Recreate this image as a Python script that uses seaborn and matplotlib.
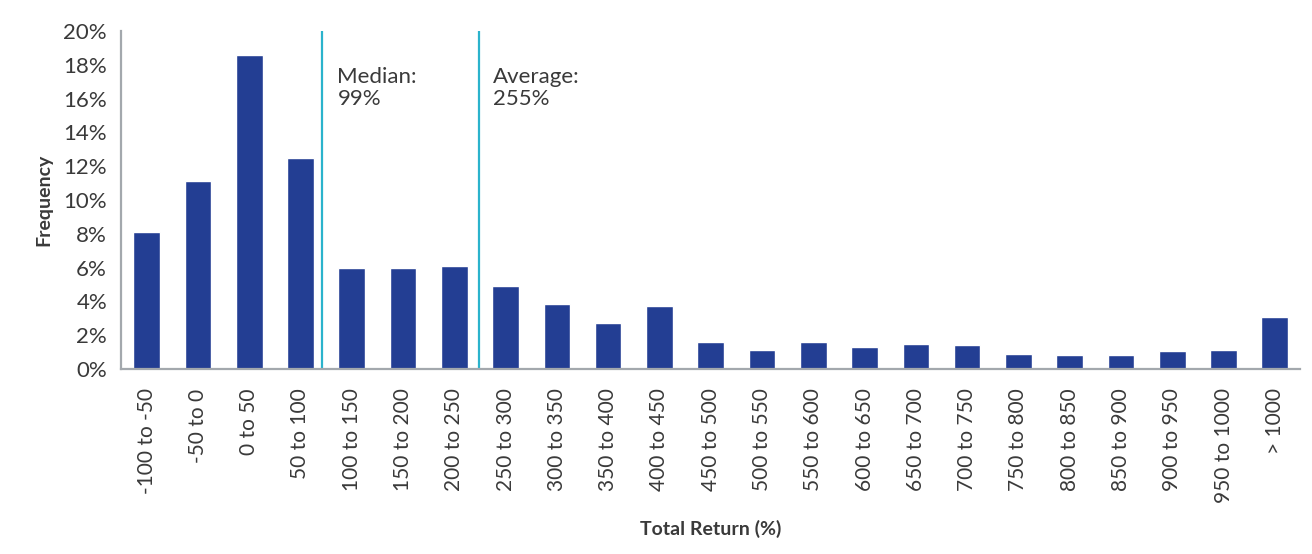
import matplotlib
matplotlib.use('Agg')
from matplotlib import pyplot as plt
from matplotlib.ticker import PercentFormatter, FixedLocator
import seaborn as sns
import pandas as pd

# ---------- DATA ----------
buckets = ['-100 to -50', '-50 to 0', '0 to 50', '50 to 100', '100 to 150',
           '150 to 200', '200 to 250', '250 to 300', '300 to 350', '350 to 400',
           '400 to 450', '450 to 500', '500 to 550', '550 to 600', '600 to 650',
           '650 to 700', '700 to 750', '750 to 800', '800 to 850', '850 to 900',
           '900 to 950', '950 to 1000', '> 1000']
frequency = [8.1, 11.1, 18.6, 12.5, 6.0, 6.0, 6.1, 4.9, 3.85, 2.7, 3.75, 1.6,
             1.15, 1.6, 1.3, 1.5, 1.4, 0.9, 0.85, 0.85, 1.05, 1.15, 3.1]
median_label = 'Median:\n99%'
average_label = 'Average:\n255%'
median_pos = 3.42    # position on the bucket axis
average_pos = 6.48

df = pd.DataFrame({'bucket': buckets, 'freq': frequency})

# ---------- PLOT ----------
sns.set_style('white')
plt.rcParams['font.family'] = ['Lato', 'DejaVu Sans']

text_col = '#3a3a3a'
axis_col = '#a3a8ad'
bar_col = '#233e93'
line_col = '#2bb3cc'

fig = plt.figure(figsize=(13.12, 5.54), dpi=100)
ax = fig.add_axes([0.0922, 0.334, 0.899, 0.61])

sns.barplot(data=df, x='bucket', y='freq', order=buckets, color=bar_col,
            saturation=1, width=0.52, ax=ax)

ax.set_xlim(-0.5, len(buckets) - 0.5)
ax.set_ylim(0, 20)
ax.set_yticks(range(0, 21, 2))
ax.yaxis.set_major_formatter(PercentFormatter(decimals=0))

# ticks at bucket boundaries, labels centred under bars
ax.xaxis.set_major_locator(FixedLocator([i - 0.5 for i in range(len(buckets) + 1)]))
ax.xaxis.set_minor_locator(FixedLocator(range(len(buckets))))
ax.set_xticklabels([''] * (len(buckets) + 1))
ax.set_xticklabels(buckets, minor=True, rotation=90, fontsize=15, color=text_col)
ax.tick_params(axis='x', which='major', length=9, width=1.3, color=axis_col, direction='out')
ax.tick_params(axis='x', which='minor', length=0, pad=14)
ax.tick_params(axis='y', which='major', length=6, width=1.3, color=axis_col,
               labelsize=16, labelcolor=text_col, pad=4)

for side in ['top', 'right']:
    ax.spines[side].set_visible(False)
for side in ['left', 'bottom']:
    ax.spines[side].set_color(axis_col)
    ax.spines[side].set_linewidth(1.6)

ax.axvline(median_pos, color=line_col, lw=1.6)
ax.axvline(average_pos, color=line_col, lw=1.6)
ax.text(median_pos + 0.3, 17.9, median_label, va='top', ha='left', fontsize=16,
        color=text_col, linespacing=1.15)
ax.text(average_pos + 0.27, 17.9, average_label, va='top', ha='left', fontsize=16,
        color=text_col, linespacing=1.15)

ax.set_xlabel('Total Return (%)', fontsize=14, fontweight='bold', color=text_col, labelpad=12)
ax.set_ylabel('Frequency', fontsize=14, fontweight='bold', color=text_col, labelpad=8)

fig.savefig('out.png', dpi=100)
